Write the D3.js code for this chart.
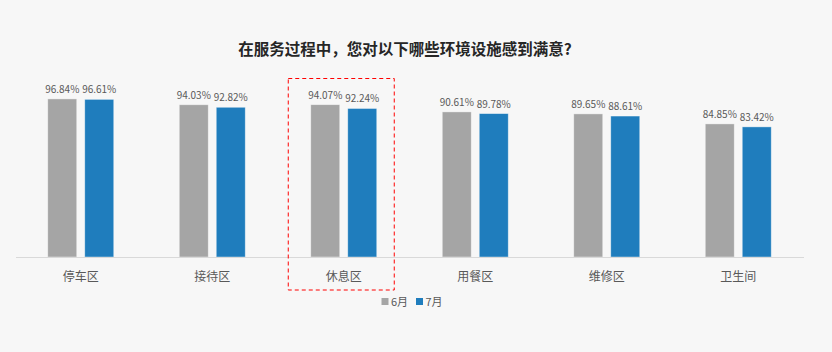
<!DOCTYPE html>
<html>
<head>
<meta charset="utf-8">
<script src="https://cdn.jsdelivr.net/npm/d3@7"></script>
<style>
  body { margin: 0; background: #f7f7f7; }
  svg { display: block; font-family: "Noto Sans CJK SC", "Noto Sans", sans-serif; }
</style>
</head>
<body>
<div id="chart"></div>
<script>
// chart data
var categories = ["停车区", "接待区", "休息区", "用餐区", "维修区", "卫生间"];
var seriesNames = ["6月", "7月"];
var june = [96.84, 94.03, 94.07, 90.61, 89.65, 84.85];
var july = [96.61, 92.82, 92.24, 89.78, 88.61, 83.42];
var colors = ["#a5a5a5", "#1f7dbd"];
var highlight = "休息区";

function init() {
    var width = 832;
    var height = 352;

    var svg = d3.select("#chart")
        .append("svg")
        .attr("width", width)
        .attr("height", height);

    svg.append("rect")
        .attr("width", width)
        .attr("height", height)
        .attr("fill", "#f7f7f7");

    // title
    svg.append("text")
        .attr("x", 405)
        .attr("y", 55)
        .attr("text-anchor", "middle")
        .style("font-size", "15.5px")
        .style("font-weight", "bold")
        .style("fill", "#262626")
        .text("在服务过程中，您对以下哪些环境设施感到满意?");

    var x = d3.scaleBand()
        .domain(categories)
        .range([15, 804]);

    // two bars per group, 29px wide with an 8px gap
    var x1 = d3.scaleBand()
        .domain(seriesNames)
        .range([-33, 33])
        .paddingInner(8 / 37);

    var y = d3.scaleLinear()
        .domain([21, 100])
        .range([257, 92.3]);

    var rows = categories.map((c, i) => ({ cat: c, values: [june[i], july[i]] }));

    var groups = svg.selectAll(".grp")
        .data(rows)
        .enter()
        .append("g")
        .attr("class", "grp")
        .attr("transform", d => `translate(${x(d.cat) + x.bandwidth() / 2},0)`);

    groups.selectAll("rect")
        .data(d => d.values.map((v, i) => ({ name: seriesNames[i], value: v, idx: i })))
        .enter()
        .append("rect")
        .attr("x", d => x1(d.name))
        .attr("y", d => y(d.value))
        .attr("width", x1.bandwidth())
        .attr("height", d => y(21) - y(d.value))
        .attr("fill", d => colors[d.idx])
        .attr("stroke", "#ffffff")
        .attr("stroke-opacity", 0.5)
        .attr("stroke-width", 0.8);

    groups.selectAll(".val")
        .data(d => d.values.map((v, i) => ({ name: seriesNames[i], value: v })))
        .enter()
        .append("text")
        .attr("class", "val")
        .attr("x", d => x1(d.name) + x1.bandwidth() / 2)
        .attr("y", d => y(d.value) - 6)
        .attr("text-anchor", "middle")
        .style("font-size", "10px")
        .style("fill", "#595959")
        .text(d => d.value.toFixed(2) + "%");

    // axis line
    svg.append("line")
        .attr("x1", 16)
        .attr("x2", 804)
        .attr("y1", 257.5)
        .attr("y2", 257.5)
        .attr("stroke", "#d9d9d9")
        .attr("stroke-width", 1);

    // category labels
    svg.selectAll(".cat")
        .data(categories)
        .enter()
        .append("text")
        .attr("class", "cat")
        .attr("x", d => x(d) + x.bandwidth() / 2)
        .attr("y", 281)
        .attr("text-anchor", "middle")
        .style("font-size", "12px")
        .style("fill", "#595959")
        .text(d => d);

    // highlight box
    svg.append("rect")
        .attr("x", x(highlight) + x.bandwidth() / 2 - 55.5)
        .attr("y", 78.5)
        .attr("width", 106)
        .attr("height", 211.5)
        .attr("fill", "none")
        .attr("stroke", "#ff0000")
        .attr("stroke-width", 1)
        .attr("stroke-dasharray", "4,3");

    // legend
    var legend = svg.append("g")
        .attr("transform", "translate(381,302)");

    var items = legend.selectAll("g")
        .data(seriesNames)
        .enter()
        .append("g")
        .attr("transform", (d, i) => `translate(${i * 34.5},0)`);

    items.append("rect")
        .attr("x", 0.5)
        .attr("y", -4)
        .attr("width", 7)
        .attr("height", 7)
        .attr("fill", (d, i) => colors[i]);

    items.append("text")
        .attr("x", 10)
        .attr("y", 4)
        .style("font-size", "11px")
        .style("fill", "#595959")
        .text(d => d);
}

window.onload = init;
</script>
</body>
</html>
